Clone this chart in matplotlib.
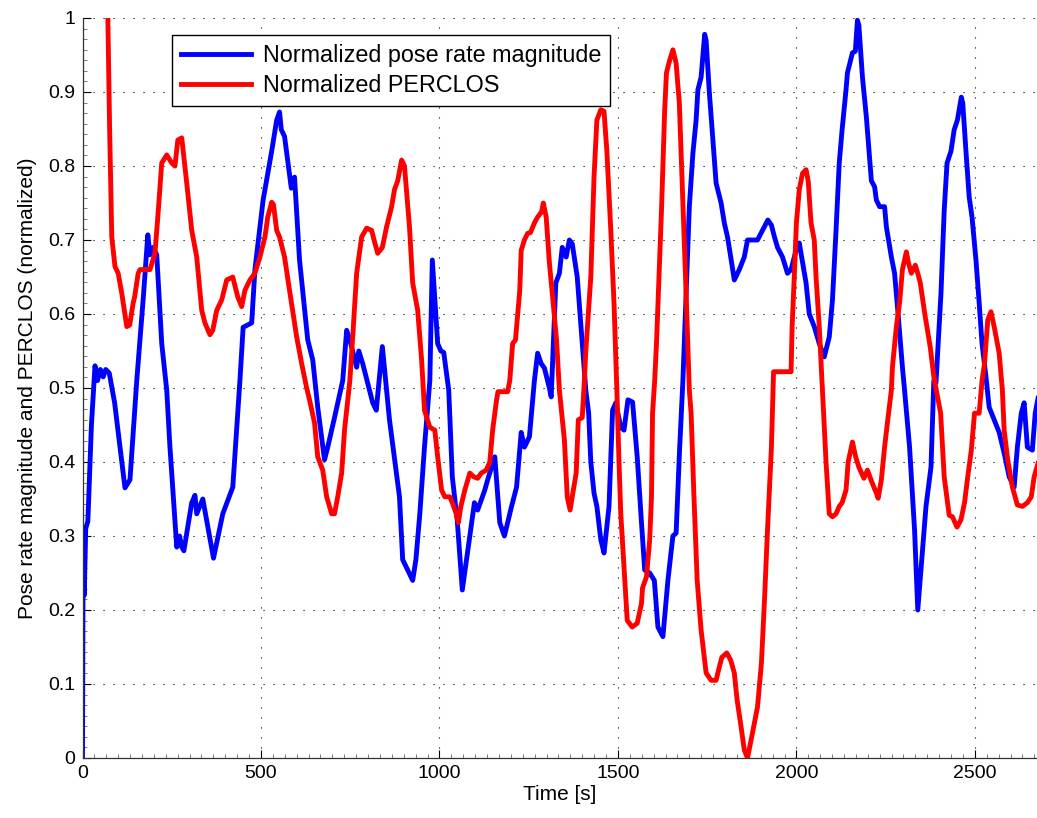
import matplotlib
matplotlib.use("Agg")
import matplotlib.pyplot as plt
from matplotlib.ticker import MultipleLocator, AutoMinorLocator, FuncFormatter

plt.rcParams['font.family'] = ['Liberation Sans', 'DejaVu Sans']

# pose rate magnitude (blue)
pose_t = [0, 2, 5, 9, 15, 25, 35, 42, 50, 58, 65, 75, 90, 119, 133, 152, 170, 183, 189, 198, 208,
          222, 236, 245, 264, 272, 278, 284, 306, 315, 320, 337, 367, 393, 421, 441, 450, 474, 483,
          506, 530, 544, 552, 557, 566, 585, 594, 608, 631, 645, 659, 678, 687, 706, 729, 740, 749,
          768, 774, 785, 804, 813, 823, 840, 860, 888, 897, 911, 925, 934, 945, 958, 973, 980, 985,
          995, 1004, 1012, 1026, 1036, 1050, 1064, 1098, 1107, 1127, 1135, 1155, 1169, 1182, 1202,
          1216, 1229, 1238, 1252, 1266, 1275, 1285, 1294, 1308, 1313, 1326, 1336, 1344, 1355, 1364,
          1372, 1386, 1400, 1410, 1418, 1424, 1433, 1441, 1452, 1461, 1475, 1485, 1494, 1508, 1517,
          1528, 1541, 1554, 1566, 1575, 1589, 1602, 1612, 1626, 1640, 1654, 1663, 1673, 1682, 1691,
          1700, 1710, 1719, 1724, 1733, 1743, 1747, 1756, 1775, 1789, 1798, 1807, 1816, 1826, 1840,
          1854, 1863, 1891, 1905, 1920, 1930, 1938, 1947, 1961, 1975, 1985, 1999, 2008, 2027, 2036,
          2050, 2064, 2078, 2092, 2101, 2111, 2120, 2128, 2139, 2143, 2157, 2165, 2171, 2175, 2185,
          2196, 2210, 2219, 2224, 2233, 2247, 2252, 2266, 2275, 2284, 2297, 2303, 2317, 2331, 2340,
          2354, 2363, 2377, 2385, 2391, 2405, 2414, 2422, 2433, 2442, 2451, 2462, 2466, 2475, 2484,
          2492, 2503, 2512, 2520, 2531, 2540, 2554, 2568, 2582, 2596, 2610, 2619, 2630, 2638, 2647,
          2661, 2669, 2690]
pose_v = [0.0, 0.31, 0.22, 0.31, 0.32, 0.45, 0.53, 0.51, 0.525, 0.515, 0.525, 0.52, 0.48, 0.365,
          0.376, 0.51, 0.62, 0.707, 0.68, 0.69, 0.68, 0.56, 0.497, 0.42, 0.285, 0.30, 0.285, 0.28,
          0.345, 0.355, 0.33, 0.35, 0.27, 0.33, 0.366, 0.51, 0.582, 0.588, 0.66, 0.754, 0.82, 0.862,
          0.873, 0.849, 0.84, 0.77, 0.785, 0.673, 0.565, 0.538, 0.474, 0.403, 0.42, 0.46, 0.51,
          0.578, 0.565, 0.528, 0.55, 0.533, 0.497, 0.48, 0.47, 0.556, 0.457, 0.353, 0.268, 0.254,
          0.24, 0.268, 0.33, 0.42, 0.51, 0.673, 0.636, 0.56, 0.55, 0.548, 0.497, 0.38, 0.32, 0.227,
          0.345, 0.335, 0.362, 0.376, 0.407, 0.318, 0.30, 0.34, 0.366, 0.44, 0.42, 0.434, 0.51,
          0.547, 0.533, 0.527, 0.50, 0.488, 0.642, 0.655, 0.69, 0.677, 0.70, 0.695, 0.65, 0.56,
          0.497, 0.466, 0.40, 0.358, 0.34, 0.295, 0.277, 0.34, 0.47, 0.48, 0.447, 0.443, 0.484,
          0.481, 0.407, 0.318, 0.254, 0.25, 0.24, 0.177, 0.164, 0.24, 0.30, 0.304, 0.42, 0.51,
          0.628, 0.745, 0.817, 0.862, 0.903, 0.92, 0.978, 0.97, 0.90, 0.777, 0.75, 0.723, 0.704,
          0.677, 0.646, 0.66, 0.677, 0.70, 0.70, 0.713, 0.727, 0.72, 0.705, 0.69, 0.677, 0.655,
          0.66, 0.686, 0.696, 0.642, 0.60, 0.583, 0.56, 0.542, 0.569, 0.619, 0.713, 0.804, 0.849,
          0.903, 0.926, 0.953, 0.955, 0.997, 0.99, 0.92, 0.866, 0.78, 0.772, 0.754, 0.745, 0.745,
          0.718, 0.677, 0.655, 0.605, 0.528, 0.497, 0.42, 0.308, 0.20, 0.285, 0.34, 0.393, 0.51,
          0.507, 0.628, 0.74, 0.804, 0.82, 0.849, 0.862, 0.893, 0.885, 0.82, 0.758, 0.731, 0.673,
          0.615, 0.56, 0.515, 0.474, 0.457, 0.44, 0.412, 0.38, 0.366, 0.42, 0.466, 0.48, 0.42,
          0.416, 0.466, 0.52]

# PERCLOS (red)
perclos_t = [66, 71, 76, 82, 91, 100, 110, 124, 132, 142, 146, 156, 161, 189, 203, 211, 222, 236,
             250, 259, 267, 278, 292, 306, 320, 334, 343, 357, 365, 376, 390, 404, 421, 435, 446,
             455, 469, 483, 497, 511, 519, 530, 535, 544, 552, 566, 580, 600, 614, 628, 636, 650,
             659, 673, 684, 698, 706, 715, 726, 734, 749, 757, 768, 782, 796, 810, 819, 827, 840,
             852, 866, 874, 883, 894, 902, 916, 925, 939, 950, 958, 973, 987, 995, 1006, 1015, 1029,
             1036, 1047, 1053, 1060, 1071, 1085, 1096, 1107, 1117, 1131, 1141, 1149, 1160, 1164,
             1191, 1197, 1205, 1213, 1225, 1229, 1238, 1247, 1255, 1266, 1275, 1286, 1291, 1299,
             1308, 1317, 1328, 1336, 1350, 1358, 1366, 1372, 1383, 1389, 1400, 1406, 1410, 1424,
             1433, 1441, 1452, 1461, 1469, 1480, 1489, 1497, 1503, 1508, 1517, 1526, 1540, 1554,
             1566, 1569, 1580, 1589, 1594, 1597, 1603, 1608, 1622, 1631, 1636, 1645, 1654, 1663,
             1672, 1681, 1691, 1700, 1705, 1713, 1722, 1733, 1747, 1761, 1775, 1782, 1791, 1805,
             1816, 1826, 1834, 1845, 1854, 1863, 1877, 1891, 1902, 1911, 1919, 1930, 1936, 1985,
             1988, 1994, 2000, 2008, 2017, 2027, 2033, 2041, 2050, 2055, 2064, 2073, 2083, 2092,
             2101, 2111, 2120, 2128, 2139, 2145, 2157, 2166, 2175, 2189, 2199, 2212, 2224, 2229,
             2238, 2247, 2255, 2266, 2269, 2280, 2289, 2297, 2308, 2314, 2322, 2333, 2340, 2347,
             2361, 2375, 2385, 2392, 2404, 2414, 2428, 2437, 2450, 2461, 2471, 2480, 2490, 2499,
             2512, 2520, 2527, 2536, 2545, 2554, 2568, 2577, 2582, 2592, 2605, 2619, 2633, 2647,
             2658, 2666, 2690]
perclos_v = [1.05, 1.0, 0.85, 0.704, 0.664, 0.655, 0.628, 0.583, 0.585, 0.615, 0.623, 0.655, 0.66,
             0.66, 0.682, 0.731, 0.804, 0.815, 0.804, 0.80, 0.835, 0.838, 0.777, 0.713, 0.677,
             0.605, 0.588, 0.572, 0.578, 0.605, 0.619, 0.646, 0.65, 0.623, 0.61, 0.632, 0.646,
             0.655, 0.677, 0.704, 0.731, 0.751, 0.748, 0.713, 0.704, 0.677, 0.632, 0.569, 0.533,
             0.50, 0.484, 0.453, 0.407, 0.389, 0.353, 0.33, 0.33, 0.353, 0.385, 0.443, 0.51, 0.569,
             0.655, 0.704, 0.716, 0.713, 0.696, 0.682, 0.69, 0.718, 0.745, 0.768, 0.78, 0.808, 0.80,
             0.718, 0.642, 0.605, 0.538, 0.47, 0.447, 0.443, 0.407, 0.362, 0.353, 0.353, 0.345,
             0.33, 0.318, 0.34, 0.362, 0.385, 0.38, 0.378, 0.385, 0.389, 0.40, 0.443, 0.484, 0.495,
             0.495, 0.51, 0.56, 0.565, 0.632, 0.686, 0.70, 0.709, 0.71, 0.723, 0.731, 0.738, 0.75,
             0.731, 0.669, 0.623, 0.565, 0.497, 0.43, 0.353, 0.335, 0.353, 0.385, 0.457, 0.46, 0.51,
             0.55, 0.65, 0.785, 0.862, 0.876, 0.874, 0.82, 0.713, 0.615, 0.497, 0.40, 0.33, 0.258,
             0.186, 0.177, 0.182, 0.209, 0.23, 0.245, 0.295, 0.353, 0.466, 0.51, 0.56, 0.74, 0.876,
             0.926, 0.943, 0.957, 0.939, 0.885, 0.764, 0.628, 0.497, 0.466, 0.353, 0.24, 0.173,
             0.115, 0.105, 0.105, 0.119, 0.136, 0.142, 0.132, 0.115, 0.078, 0.042, 0.011, 0.0,
             0.034, 0.069, 0.128, 0.218, 0.308, 0.42, 0.522, 0.522, 0.583, 0.65, 0.723, 0.768, 0.79,
             0.795, 0.78, 0.723, 0.70, 0.65, 0.583, 0.497, 0.40, 0.33, 0.326, 0.33, 0.34, 0.345,
             0.362, 0.40, 0.427, 0.407, 0.393, 0.378, 0.389, 0.372, 0.358, 0.351, 0.376, 0.42,
             0.453, 0.497, 0.528, 0.583, 0.615, 0.66, 0.684, 0.669, 0.655, 0.666, 0.655, 0.642,
             0.596, 0.555, 0.515, 0.497, 0.466, 0.38, 0.328, 0.326, 0.312, 0.322, 0.345, 0.38,
             0.416, 0.466, 0.466, 0.51, 0.533, 0.592, 0.603, 0.583, 0.547, 0.497, 0.443, 0.403,
             0.366, 0.342, 0.34, 0.345, 0.353, 0.38, 0.42]

W, H = 1037, 818
fig = plt.figure(figsize=(W / 100, H / 100), dpi=100)
ax = fig.add_axes([82.5 / W, 60 / H, (W - 82.5) / W, 740 / H])

ax.plot(pose_t, pose_v, color='#0000ff', lw=3.5, label='Normalized pose rate magnitude')
ax.plot(perclos_t, perclos_v, color='#ff0000', lw=3.5, label='Normalized PERCLOS')

ax.set_xlim(0, 2674)
ax.set_ylim(0, 1)
ax.xaxis.set_major_locator(MultipleLocator(500))
ax.yaxis.set_major_locator(MultipleLocator(0.1))
ax.xaxis.set_minor_locator(AutoMinorLocator(15))
ax.yaxis.set_minor_locator(AutoMinorLocator(7))
ax.yaxis.set_major_formatter(FuncFormatter(lambda v, p: '%g' % round(v, 2)))

ax.spines['top'].set_visible(False)
ax.spines['right'].set_visible(False)
for s in ('left', 'bottom'):
    ax.spines[s].set_color('#333333')
    ax.spines[s].set_linewidth(0.9)
ax.tick_params(which='major', direction='in', length=6, width=0.8, labelsize=14, pad=5,
               colors='black')
ax.tick_params(which='minor', direction='in', length=3, width=0.6, color='#666666')

ax.grid(True, which='major', color='black', linestyle=(0, (1, 8)), linewidth=0.8)

ax.set_xlabel('Time [s]', fontsize=15, labelpad=2)
ax.set_ylabel('Pose rate magnitude and PERCLOS (normalized)', fontsize=15, labelpad=8)

leg = ax.legend(loc='upper left', bbox_to_anchor=(172 / W, 1 - 35 / H),
                bbox_transform=fig.transFigure, borderaxespad=0, fontsize=16.8,
                fancybox=False, framealpha=1, edgecolor='black', handlelength=3.0,
                handletextpad=0.5, labelspacing=0.3, borderpad=0.38)
leg.get_frame().set_linewidth(1.0)

fig.savefig('out.png', dpi=100)
